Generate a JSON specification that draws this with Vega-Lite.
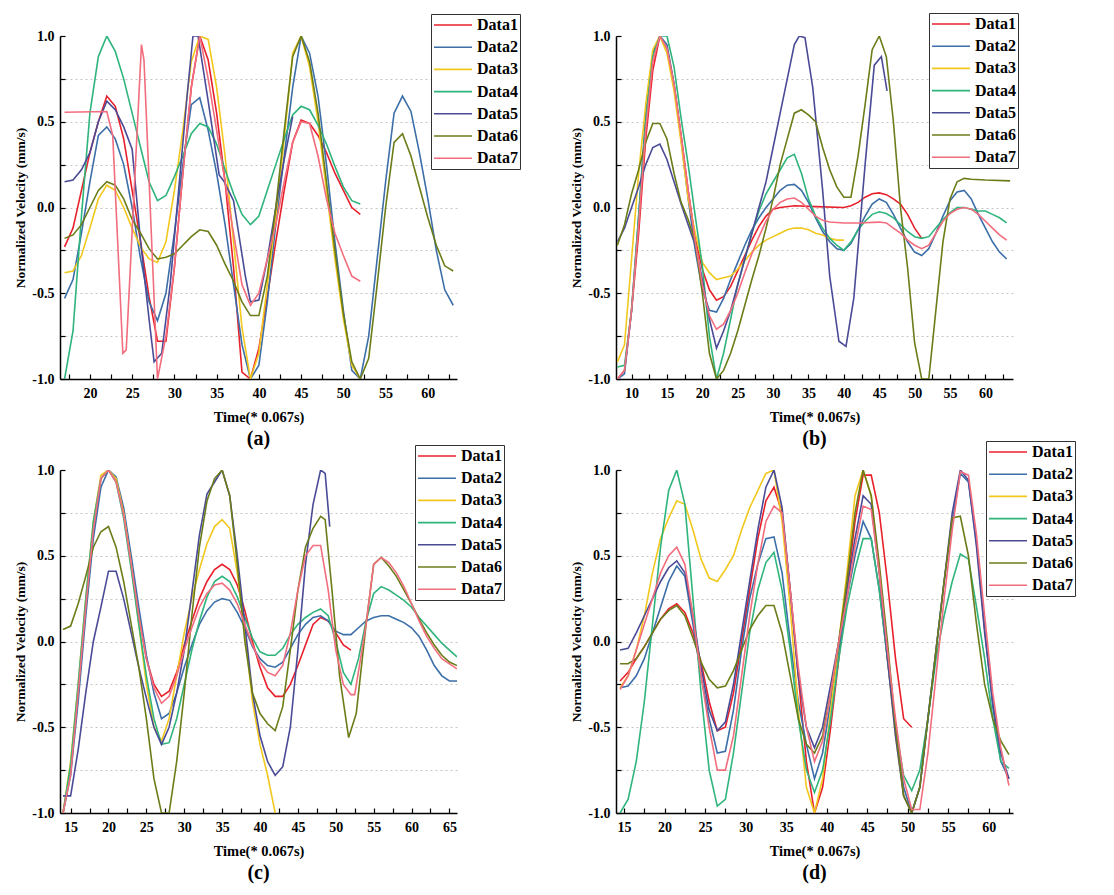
{
  "$schema": "https://vega.github.io/schema/vega-lite/v6.json",
  "background": "white",
  "padding": {"left": 13, "top": 12, "right": 5, "bottom": 5},
  "columns": 2,
  "bounds": "flush",
  "spacing": {"row": 91, "column": 159},
  "resolve": {"scale": {"x": "independent", "y": "independent"}, "legend": {"color": "independent"}},
  "config": {
    "font": "Liberation Serif",
    "view": {"stroke": null},
    "axis": {"labelFont": "Liberation Serif", "labelFontWeight": "bold", "labelColor": "black", "titleFont": "Liberation Serif", "titleFontWeight": "bold", "titleColor": "black", "domainColor": "black", "domainWidth": 1.5, "tickColor": "black", "tickWidth": 1.2, "tickSize": -5, "grid": false},
    "axisX": {"labelFontSize": 14, "titleFontSize": 14.5, "labelPadding": 12, "titlePadding": 10, "labelFlush": false},
    "axisY": {"labelFontSize": 14, "titleFontSize": 13.5, "labelPadding": 11, "titlePadding": 4, "grid": true, "gridColor": "#c4c4c4", "gridDash": [2, 3], "gridWidth": 1},
    "legend": {"fillColor": "white", "strokeColor": "#333333", "padding": 2, "symbolType": "M-1,0H3.75", "symbolStrokeWidth": 2, "symbolSize": 256, "labelFont": "Liberation Serif", "labelFontSize": 16, "labelFontWeight": "bold", "labelColor": "black", "rowPadding": 5.2, "labelOffset": 26, "labelLimit": 0},
    "title": {"font": "Liberation Serif", "fontSize": 20, "fontWeight": "bold", "color": "black", "orient": "bottom", "offset": 5},
    "line": {"strokeWidth": 1.6}
  },
  "datasets": {
    "a": [
      {"s":"Data1","x":17,"y":-0.23},{"s":"Data1","x":18,"y":-0.12},{"s":"Data1","x":19,"y":0.1},{"s":"Data1","x":20,"y":0.32},{"s":"Data1","x":21,"y":0.5},{"s":"Data1","x":22,"y":0.65},{"s":"Data1","x":23,"y":0.59},{"s":"Data1","x":24,"y":0.4},{"s":"Data1","x":25,"y":0.1},{"s":"Data1","x":26,"y":-0.2},{"s":"Data1","x":27,"y":-0.52},{"s":"Data1","x":28,"y":-0.78},{"s":"Data1","x":29,"y":-0.78},{"s":"Data1","x":30,"y":-0.35},{"s":"Data1","x":31,"y":0.2},{"s":"Data1","x":32,"y":0.7},{"s":"Data1","x":33,"y":1.0},{"s":"Data1","x":34,"y":0.86},{"s":"Data1","x":35,"y":0.55},{"s":"Data1","x":36,"y":0.15},{"s":"Data1","x":37,"y":-0.35},{"s":"Data1","x":38,"y":-0.96},{"s":"Data1","x":39,"y":-1.0},{"s":"Data1","x":40,"y":-0.82},{"s":"Data1","x":41,"y":-0.52},{"s":"Data1","x":42,"y":-0.2},{"s":"Data1","x":43,"y":0.1},{"s":"Data1","x":44,"y":0.38},{"s":"Data1","x":45,"y":0.51},{"s":"Data1","x":46,"y":0.49},{"s":"Data1","x":47,"y":0.42},{"s":"Data1","x":48,"y":0.32},{"s":"Data1","x":49,"y":0.2},{"s":"Data1","x":50,"y":0.1},{"s":"Data1","x":51,"y":0.0},{"s":"Data1","x":52,"y":-0.04},
      {"s":"Data2","x":17,"y":-0.53},{"s":"Data2","x":18,"y":-0.42},{"s":"Data2","x":19,"y":-0.15},{"s":"Data2","x":20,"y":0.15},{"s":"Data2","x":21,"y":0.42},{"s":"Data2","x":22,"y":0.47},{"s":"Data2","x":23,"y":0.4},{"s":"Data2","x":24,"y":0.25},{"s":"Data2","x":25,"y":0.0},{"s":"Data2","x":26,"y":-0.3},{"s":"Data2","x":27,"y":-0.55},{"s":"Data2","x":28,"y":-0.66},{"s":"Data2","x":29,"y":-0.5},{"s":"Data2","x":30,"y":-0.15},{"s":"Data2","x":31,"y":0.25},{"s":"Data2","x":32,"y":0.6},{"s":"Data2","x":33,"y":0.64},{"s":"Data2","x":34,"y":0.45},{"s":"Data2","x":35,"y":0.2},{"s":"Data2","x":36,"y":-0.1},{"s":"Data2","x":37,"y":-0.45},{"s":"Data2","x":38,"y":-0.8},{"s":"Data2","x":39,"y":-1.0},{"s":"Data2","x":40,"y":-0.92},{"s":"Data2","x":41,"y":-0.55},{"s":"Data2","x":42,"y":-0.1},{"s":"Data2","x":43,"y":0.3},{"s":"Data2","x":44,"y":0.7},{"s":"Data2","x":45,"y":1.0},{"s":"Data2","x":46,"y":0.9},{"s":"Data2","x":47,"y":0.65},{"s":"Data2","x":48,"y":0.25},{"s":"Data2","x":49,"y":-0.2},{"s":"Data2","x":50,"y":-0.6},{"s":"Data2","x":51,"y":-0.95},{"s":"Data2","x":52,"y":-1.0},{"s":"Data2","x":53,"y":-0.75},{"s":"Data2","x":54,"y":-0.3},{"s":"Data2","x":55,"y":0.15},{"s":"Data2","x":56,"y":0.55},{"s":"Data2","x":57,"y":0.65},{"s":"Data2","x":58,"y":0.56},{"s":"Data2","x":59,"y":0.32},{"s":"Data2","x":60,"y":0.05},{"s":"Data2","x":61,"y":-0.25},{"s":"Data2","x":62,"y":-0.48},{"s":"Data2","x":63,"y":-0.57},
      {"s":"Data3","x":17,"y":-0.38},{"s":"Data3","x":18,"y":-0.37},{"s":"Data3","x":19,"y":-0.28},{"s":"Data3","x":20,"y":-0.12},{"s":"Data3","x":21,"y":0.05},{"s":"Data3","x":22,"y":0.13},{"s":"Data3","x":23,"y":0.1},{"s":"Data3","x":24,"y":0.0},{"s":"Data3","x":25,"y":-0.12},{"s":"Data3","x":26,"y":-0.23},{"s":"Data3","x":27,"y":-0.3},{"s":"Data3","x":28,"y":-0.32},{"s":"Data3","x":29,"y":-0.2},{"s":"Data3","x":30,"y":0.1},{"s":"Data3","x":31,"y":0.45},{"s":"Data3","x":32,"y":0.85},{"s":"Data3","x":33,"y":1.0},{"s":"Data3","x":34,"y":0.98},{"s":"Data3","x":35,"y":0.7},{"s":"Data3","x":36,"y":0.3},{"s":"Data3","x":37,"y":-0.2},{"s":"Data3","x":38,"y":-0.7},{"s":"Data3","x":39,"y":-1.0},{"s":"Data3","x":40,"y":-0.85},{"s":"Data3","x":41,"y":-0.45},{"s":"Data3","x":42,"y":-0.05},{"s":"Data3","x":43,"y":0.4},{"s":"Data3","x":44,"y":0.9},{"s":"Data3","x":45,"y":1.0},{"s":"Data3","x":46,"y":0.82},{"s":"Data3","x":47,"y":0.5},{"s":"Data3","x":48,"y":0.1},{"s":"Data3","x":49,"y":-0.3},{"s":"Data3","x":50,"y":-0.65},{"s":"Data3","x":51,"y":-0.92},{"s":"Data3","x":52,"y":-1.0},
      {"s":"Data4","x":17,"y":-1.0},{"s":"Data4","x":18,"y":-0.72},{"s":"Data4","x":19,"y":-0.05},{"s":"Data4","x":20,"y":0.55},{"s":"Data4","x":21,"y":0.88},{"s":"Data4","x":22,"y":1.0},{"s":"Data4","x":23,"y":0.91},{"s":"Data4","x":24,"y":0.75},{"s":"Data4","x":25,"y":0.55},{"s":"Data4","x":26,"y":0.35},{"s":"Data4","x":27,"y":0.15},{"s":"Data4","x":28,"y":0.04},{"s":"Data4","x":29,"y":0.07},{"s":"Data4","x":30,"y":0.18},{"s":"Data4","x":31,"y":0.3},{"s":"Data4","x":32,"y":0.43},{"s":"Data4","x":33,"y":0.49},{"s":"Data4","x":34,"y":0.47},{"s":"Data4","x":35,"y":0.37},{"s":"Data4","x":36,"y":0.22},{"s":"Data4","x":37,"y":0.08},{"s":"Data4","x":38,"y":-0.04},{"s":"Data4","x":39,"y":-0.1},{"s":"Data4","x":40,"y":-0.05},{"s":"Data4","x":41,"y":0.1},{"s":"Data4","x":42,"y":0.25},{"s":"Data4","x":43,"y":0.4},{"s":"Data4","x":44,"y":0.54},{"s":"Data4","x":45,"y":0.59},{"s":"Data4","x":46,"y":0.57},{"s":"Data4","x":47,"y":0.48},{"s":"Data4","x":48,"y":0.37},{"s":"Data4","x":49,"y":0.24},{"s":"Data4","x":50,"y":0.12},{"s":"Data4","x":51,"y":0.04},{"s":"Data4","x":52,"y":0.02},
      {"s":"Data5","x":17,"y":0.15},{"s":"Data5","x":18,"y":0.16},{"s":"Data5","x":19,"y":0.22},{"s":"Data5","x":20,"y":0.32},{"s":"Data5","x":21,"y":0.5},{"s":"Data5","x":22,"y":0.62},{"s":"Data5","x":23,"y":0.57},{"s":"Data5","x":24,"y":0.47},{"s":"Data5","x":25,"y":0.34},{"s":"Data5","x":26,"y":-0.2},{"s":"Data5","x":27,"y":-0.65},{"s":"Data5","x":27.6,"y":-0.9},{"s":"Data5","x":28.5,"y":-0.85},{"s":"Data5","x":29.5,"y":-0.45},{"s":"Data5","x":30.5,"y":0.1},{"s":"Data5","x":31.5,"y":0.65},{"s":"Data5","x":32.2,"y":1.0},{"s":"Data5","x":32.8,"y":1.0},{"s":"Data5","x":34,"y":0.62},{"s":"Data5","x":35.3,"y":0.19},{"s":"Data5","x":35.9,"y":0.15},{"s":"Data5","x":37,"y":0.04},{"s":"Data5","x":38.4,"y":-0.4},{"s":"Data5","x":39,"y":-0.55},{"s":"Data5","x":40,"y":-0.54},{"s":"Data5","x":41,"y":-0.3},{"s":"Data5","x":42,"y":0.0},{"s":"Data5","x":43,"y":0.28},{"s":"Data5","x":44,"y":0.53},
      {"s":"Data6","x":17,"y":-0.18},{"s":"Data6","x":18,"y":-0.16},{"s":"Data6","x":19,"y":-0.1},{"s":"Data6","x":20,"y":0.0},{"s":"Data6","x":21,"y":0.1},{"s":"Data6","x":22,"y":0.15},{"s":"Data6","x":23,"y":0.13},{"s":"Data6","x":24,"y":0.05},{"s":"Data6","x":25,"y":-0.07},{"s":"Data6","x":26,"y":-0.15},{"s":"Data6","x":27,"y":-0.24},{"s":"Data6","x":28,"y":-0.3},{"s":"Data6","x":29,"y":-0.29},{"s":"Data6","x":30,"y":-0.27},{"s":"Data6","x":31,"y":-0.22},{"s":"Data6","x":32,"y":-0.17},{"s":"Data6","x":33,"y":-0.13},{"s":"Data6","x":34,"y":-0.14},{"s":"Data6","x":35,"y":-0.22},{"s":"Data6","x":36,"y":-0.33},{"s":"Data6","x":37,"y":-0.43},{"s":"Data6","x":38,"y":-0.55},{"s":"Data6","x":39,"y":-0.63},{"s":"Data6","x":40,"y":-0.63},{"s":"Data6","x":41,"y":-0.4},{"s":"Data6","x":42,"y":0.0},{"s":"Data6","x":43,"y":0.45},{"s":"Data6","x":44,"y":0.88},{"s":"Data6","x":45,"y":1.0},{"s":"Data6","x":46,"y":0.85},{"s":"Data6","x":47,"y":0.55},{"s":"Data6","x":48,"y":0.15},{"s":"Data6","x":49,"y":-0.25},{"s":"Data6","x":50,"y":-0.62},{"s":"Data6","x":51,"y":-0.9},{"s":"Data6","x":52,"y":-1.0},{"s":"Data6","x":53,"y":-0.88},{"s":"Data6","x":54,"y":-0.45},{"s":"Data6","x":55,"y":0.0},{"s":"Data6","x":56,"y":0.38},{"s":"Data6","x":57,"y":0.43},{"s":"Data6","x":58,"y":0.3},{"s":"Data6","x":59,"y":0.12},{"s":"Data6","x":60,"y":-0.06},{"s":"Data6","x":61,"y":-0.22},{"s":"Data6","x":62,"y":-0.34},{"s":"Data6","x":63,"y":-0.37},
      {"s":"Data7","x":17,"y":0.555},{"s":"Data7","x":22,"y":0.56},{"s":"Data7","x":22.7,"y":0.42},{"s":"Data7","x":23.9,"y":-0.85},{"s":"Data7","x":24.3,"y":-0.83},{"s":"Data7","x":26.1,"y":0.95},{"s":"Data7","x":26.4,"y":0.86},{"s":"Data7","x":28,"y":-1.0},{"s":"Data7","x":29,"y":-0.75},{"s":"Data7","x":30,"y":-0.35},{"s":"Data7","x":31,"y":0.2},{"s":"Data7","x":32,"y":0.7},{"s":"Data7","x":33,"y":1.0},{"s":"Data7","x":34,"y":0.75},{"s":"Data7","x":35,"y":0.45},{"s":"Data7","x":36,"y":0.15},{"s":"Data7","x":37,"y":-0.15},{"s":"Data7","x":38,"y":-0.45},{"s":"Data7","x":39,"y":-0.57},{"s":"Data7","x":40,"y":-0.5},{"s":"Data7","x":41,"y":-0.3},{"s":"Data7","x":42,"y":-0.1},{"s":"Data7","x":43,"y":0.15},{"s":"Data7","x":44,"y":0.38},{"s":"Data7","x":45,"y":0.5},{"s":"Data7","x":46,"y":0.49},{"s":"Data7","x":47,"y":0.3},{"s":"Data7","x":48,"y":0.05},{"s":"Data7","x":49,"y":-0.15},{"s":"Data7","x":50,"y":-0.28},{"s":"Data7","x":51,"y":-0.4},{"s":"Data7","x":52,"y":-0.43}
    ],
    "b": [
      {"s":"Data1","x":8,"y":-1.0},{"s":"Data1","x":9,"y":-0.95},{"s":"Data1","x":10,"y":-0.6},{"s":"Data1","x":11,"y":-0.15},{"s":"Data1","x":12,"y":0.4},{"s":"Data1","x":13,"y":0.8},{"s":"Data1","x":14,"y":1.0},{"s":"Data1","x":15,"y":0.93},{"s":"Data1","x":16,"y":0.72},{"s":"Data1","x":17,"y":0.42},{"s":"Data1","x":18,"y":0.1},{"s":"Data1","x":19,"y":-0.18},{"s":"Data1","x":20,"y":-0.36},{"s":"Data1","x":21,"y":-0.48},{"s":"Data1","x":22,"y":-0.54},{"s":"Data1","x":23,"y":-0.52},{"s":"Data1","x":24,"y":-0.46},{"s":"Data1","x":25,"y":-0.37},{"s":"Data1","x":26,"y":-0.28},{"s":"Data1","x":27,"y":-0.19},{"s":"Data1","x":28,"y":-0.11},{"s":"Data1","x":29,"y":-0.05},{"s":"Data1","x":30,"y":-0.01},{"s":"Data1","x":31,"y":0.0},{"s":"Data1","x":33,"y":0.01},{"s":"Data1","x":36,"y":0.005},{"s":"Data1","x":40,"y":0.0},{"s":"Data1","x":41,"y":0.01},{"s":"Data1","x":42,"y":0.03},{"s":"Data1","x":43,"y":0.06},{"s":"Data1","x":44,"y":0.08},{"s":"Data1","x":45,"y":0.085},{"s":"Data1","x":46,"y":0.075},{"s":"Data1","x":47,"y":0.05},{"s":"Data1","x":48,"y":0.02},{"s":"Data1","x":49,"y":-0.04},{"s":"Data1","x":50,"y":-0.12},{"s":"Data1","x":51,"y":-0.18},
      {"s":"Data2","x":8,"y":-1.0},{"s":"Data2","x":9,"y":-0.97},{"s":"Data2","x":10,"y":-0.6},{"s":"Data2","x":11,"y":-0.05},{"s":"Data2","x":12,"y":0.55},{"s":"Data2","x":13,"y":0.9},{"s":"Data2","x":14,"y":1.0},{"s":"Data2","x":15,"y":0.95},{"s":"Data2","x":16,"y":0.72},{"s":"Data2","x":17,"y":0.4},{"s":"Data2","x":18,"y":0.05},{"s":"Data2","x":19,"y":-0.25},{"s":"Data2","x":20,"y":-0.48},{"s":"Data2","x":21,"y":-0.6},{"s":"Data2","x":22,"y":-0.61},{"s":"Data2","x":23,"y":-0.53},{"s":"Data2","x":24,"y":-0.42},{"s":"Data2","x":25,"y":-0.32},{"s":"Data2","x":26,"y":-0.22},{"s":"Data2","x":27,"y":-0.13},{"s":"Data2","x":28,"y":-0.06},{"s":"Data2","x":29,"y":0.0},{"s":"Data2","x":30,"y":0.05},{"s":"Data2","x":31,"y":0.1},{"s":"Data2","x":32,"y":0.13},{"s":"Data2","x":33,"y":0.135},{"s":"Data2","x":34,"y":0.1},{"s":"Data2","x":35,"y":0.03},{"s":"Data2","x":36,"y":-0.06},{"s":"Data2","x":37,"y":-0.14},{"s":"Data2","x":38,"y":-0.2},{"s":"Data2","x":39,"y":-0.24},{"s":"Data2","x":40,"y":-0.25},{"s":"Data2","x":41,"y":-0.21},{"s":"Data2","x":42,"y":-0.13},{"s":"Data2","x":43,"y":-0.05},{"s":"Data2","x":44,"y":0.02},{"s":"Data2","x":45,"y":0.05},{"s":"Data2","x":46,"y":0.03},{"s":"Data2","x":47,"y":-0.04},{"s":"Data2","x":48,"y":-0.12},{"s":"Data2","x":49,"y":-0.2},{"s":"Data2","x":50,"y":-0.26},{"s":"Data2","x":51,"y":-0.28},{"s":"Data2","x":52,"y":-0.24},{"s":"Data2","x":53,"y":-0.15},{"s":"Data2","x":54,"y":-0.05},{"s":"Data2","x":55,"y":0.04},{"s":"Data2","x":56,"y":0.09},{"s":"Data2","x":57,"y":0.1},{"s":"Data2","x":58,"y":0.05},{"s":"Data2","x":59,"y":-0.04},{"s":"Data2","x":60,"y":-0.12},{"s":"Data2","x":61,"y":-0.2},{"s":"Data2","x":62,"y":-0.26},{"s":"Data2","x":63,"y":-0.3},
      {"s":"Data3","x":8,"y":-0.9},{"s":"Data3","x":9,"y":-0.8},{"s":"Data3","x":10,"y":-0.3},{"s":"Data3","x":11,"y":0.2},{"s":"Data3","x":12,"y":0.6},{"s":"Data3","x":13,"y":0.92},{"s":"Data3","x":14,"y":1.0},{"s":"Data3","x":15,"y":0.9},{"s":"Data3","x":16,"y":0.68},{"s":"Data3","x":17,"y":0.38},{"s":"Data3","x":18,"y":0.05},{"s":"Data3","x":19,"y":-0.15},{"s":"Data3","x":20,"y":-0.32},{"s":"Data3","x":21,"y":-0.38},{"s":"Data3","x":22,"y":-0.42},{"s":"Data3","x":23,"y":-0.41},{"s":"Data3","x":24,"y":-0.4},{"s":"Data3","x":25,"y":-0.36},{"s":"Data3","x":26,"y":-0.31},{"s":"Data3","x":27,"y":-0.26},{"s":"Data3","x":28,"y":-0.22},{"s":"Data3","x":29,"y":-0.19},{"s":"Data3","x":30,"y":-0.17},{"s":"Data3","x":31,"y":-0.15},{"s":"Data3","x":32,"y":-0.13},{"s":"Data3","x":33,"y":-0.12},{"s":"Data3","x":34,"y":-0.12},{"s":"Data3","x":35,"y":-0.13},{"s":"Data3","x":36,"y":-0.15},{"s":"Data3","x":37,"y":-0.16},{"s":"Data3","x":38,"y":-0.18},{"s":"Data3","x":39,"y":-0.19},{"s":"Data3","x":40,"y":-0.19},
      {"s":"Data4","x":8,"y":-0.93},{"s":"Data4","x":9,"y":-0.92},{"s":"Data4","x":10,"y":-0.6},{"s":"Data4","x":11,"y":-0.05},{"s":"Data4","x":12,"y":0.5},{"s":"Data4","x":13,"y":0.88},{"s":"Data4","x":14,"y":1.0},{"s":"Data4","x":15,"y":1.0},{"s":"Data4","x":16,"y":0.82},{"s":"Data4","x":17,"y":0.52},{"s":"Data4","x":18,"y":0.25},{"s":"Data4","x":19,"y":-0.05},{"s":"Data4","x":20,"y":-0.34},{"s":"Data4","x":21,"y":-0.75},{"s":"Data4","x":22,"y":-1.0},{"s":"Data4","x":23,"y":-0.85},{"s":"Data4","x":24,"y":-0.65},{"s":"Data4","x":25,"y":-0.45},{"s":"Data4","x":26,"y":-0.3},{"s":"Data4","x":27,"y":-0.15},{"s":"Data4","x":28,"y":-0.02},{"s":"Data4","x":29,"y":0.08},{"s":"Data4","x":30,"y":0.15},{"s":"Data4","x":31,"y":0.22},{"s":"Data4","x":32,"y":0.29},{"s":"Data4","x":33,"y":0.31},{"s":"Data4","x":34,"y":0.2},{"s":"Data4","x":35,"y":0.05},{"s":"Data4","x":36,"y":-0.05},{"s":"Data4","x":37,"y":-0.12},{"s":"Data4","x":38,"y":-0.18},{"s":"Data4","x":39,"y":-0.22},{"s":"Data4","x":40,"y":-0.25},{"s":"Data4","x":41,"y":-0.2},{"s":"Data4","x":42,"y":-0.13},{"s":"Data4","x":43,"y":-0.08},{"s":"Data4","x":44,"y":-0.04},{"s":"Data4","x":45,"y":-0.025},{"s":"Data4","x":46,"y":-0.035},{"s":"Data4","x":47,"y":-0.06},{"s":"Data4","x":48,"y":-0.1},{"s":"Data4","x":49,"y":-0.14},{"s":"Data4","x":50,"y":-0.17},{"s":"Data4","x":51,"y":-0.18},{"s":"Data4","x":52,"y":-0.17},{"s":"Data4","x":53,"y":-0.12},{"s":"Data4","x":54,"y":-0.07},{"s":"Data4","x":55,"y":-0.03},{"s":"Data4","x":56,"y":0.0},{"s":"Data4","x":57,"y":0.0},{"s":"Data4","x":58,"y":-0.01},{"s":"Data4","x":59,"y":-0.02},{"s":"Data4","x":60,"y":-0.02},{"s":"Data4","x":61,"y":-0.04},{"s":"Data4","x":62,"y":-0.06},{"s":"Data4","x":63,"y":-0.09},
      {"s":"Data5","x":8,"y":-0.2},{"s":"Data5","x":9,"y":-0.12},{"s":"Data5","x":10,"y":0.0},{"s":"Data5","x":11,"y":0.12},{"s":"Data5","x":12,"y":0.25},{"s":"Data5","x":13,"y":0.35},{"s":"Data5","x":14,"y":0.37},{"s":"Data5","x":15,"y":0.28},{"s":"Data5","x":16,"y":0.15},{"s":"Data5","x":17,"y":0.02},{"s":"Data5","x":18,"y":-0.1},{"s":"Data5","x":19,"y":-0.22},{"s":"Data5","x":20,"y":-0.42},{"s":"Data5","x":21,"y":-0.65},{"s":"Data5","x":22,"y":-0.82},{"s":"Data5","x":23,"y":-0.72},{"s":"Data5","x":24,"y":-0.6},{"s":"Data5","x":25,"y":-0.45},{"s":"Data5","x":26,"y":-0.3},{"s":"Data5","x":27,"y":-0.15},{"s":"Data5","x":28,"y":0.0},{"s":"Data5","x":29,"y":0.15},{"s":"Data5","x":30,"y":0.35},{"s":"Data5","x":31,"y":0.55},{"s":"Data5","x":32,"y":0.75},{"s":"Data5","x":33,"y":0.95},{"s":"Data5","x":33.7,"y":1.0},{"s":"Data5","x":34.5,"y":0.99},{"s":"Data5","x":35.6,"y":0.7},{"s":"Data5","x":37,"y":0.1},{"s":"Data5","x":38,"y":-0.4},{"s":"Data5","x":39.3,"y":-0.78},{"s":"Data5","x":40.3,"y":-0.81},{"s":"Data5","x":41.4,"y":-0.53},{"s":"Data5","x":43,"y":0.25},{"s":"Data5","x":44.3,"y":0.83},{"s":"Data5","x":45.3,"y":0.88},{"s":"Data5","x":46.1,"y":0.68},
      {"s":"Data6","x":8,"y":-0.22},{"s":"Data6","x":9,"y":-0.1},{"s":"Data6","x":10,"y":0.08},{"s":"Data6","x":11,"y":0.22},{"s":"Data6","x":12,"y":0.38},{"s":"Data6","x":13,"y":0.49},{"s":"Data6","x":14,"y":0.49},{"s":"Data6","x":15,"y":0.4},{"s":"Data6","x":16,"y":0.2},{"s":"Data6","x":17,"y":0.03},{"s":"Data6","x":18,"y":-0.07},{"s":"Data6","x":19,"y":-0.2},{"s":"Data6","x":20,"y":-0.5},{"s":"Data6","x":21,"y":-0.85},{"s":"Data6","x":22,"y":-1.0},{"s":"Data6","x":23,"y":-0.95},{"s":"Data6","x":24,"y":-0.85},{"s":"Data6","x":25,"y":-0.72},{"s":"Data6","x":26,"y":-0.57},{"s":"Data6","x":27,"y":-0.42},{"s":"Data6","x":28,"y":-0.28},{"s":"Data6","x":29,"y":-0.12},{"s":"Data6","x":30,"y":0.05},{"s":"Data6","x":31,"y":0.25},{"s":"Data6","x":32,"y":0.4},{"s":"Data6","x":33,"y":0.55},{"s":"Data6","x":34,"y":0.57},{"s":"Data6","x":35,"y":0.54},{"s":"Data6","x":36,"y":0.5},{"s":"Data6","x":37,"y":0.35},{"s":"Data6","x":38,"y":0.22},{"s":"Data6","x":39,"y":0.12},{"s":"Data6","x":40,"y":0.06},{"s":"Data6","x":41,"y":0.06},{"s":"Data6","x":42,"y":0.3},{"s":"Data6","x":43,"y":0.6},{"s":"Data6","x":44,"y":0.92},{"s":"Data6","x":45,"y":1.0},{"s":"Data6","x":46,"y":0.88},{"s":"Data6","x":47,"y":0.5},{"s":"Data6","x":48,"y":0.0},{"s":"Data6","x":49,"y":-0.35},{"s":"Data6","x":50,"y":-0.79},{"s":"Data6","x":51,"y":-1.0},{"s":"Data6","x":52,"y":-1.0},{"s":"Data6","x":53,"y":-0.6},{"s":"Data6","x":54,"y":-0.2},{"s":"Data6","x":55,"y":0.05},{"s":"Data6","x":56,"y":0.15},{"s":"Data6","x":57,"y":0.17},{"s":"Data6","x":58,"y":0.165},{"s":"Data6","x":60,"y":0.16},{"s":"Data6","x":63.5,"y":0.155},
      {"s":"Data7","x":8,"y":-1.0},{"s":"Data7","x":9,"y":-0.95},{"s":"Data7","x":10,"y":-0.6},{"s":"Data7","x":11,"y":-0.1},{"s":"Data7","x":12,"y":0.45},{"s":"Data7","x":13,"y":0.85},{"s":"Data7","x":14,"y":1.0},{"s":"Data7","x":15,"y":0.93},{"s":"Data7","x":16,"y":0.72},{"s":"Data7","x":17,"y":0.42},{"s":"Data7","x":18,"y":0.1},{"s":"Data7","x":19,"y":-0.2},{"s":"Data7","x":20,"y":-0.45},{"s":"Data7","x":21,"y":-0.63},{"s":"Data7","x":22,"y":-0.71},{"s":"Data7","x":23,"y":-0.68},{"s":"Data7","x":24,"y":-0.6},{"s":"Data7","x":25,"y":-0.5},{"s":"Data7","x":26,"y":-0.38},{"s":"Data7","x":27,"y":-0.27},{"s":"Data7","x":28,"y":-0.17},{"s":"Data7","x":29,"y":-0.08},{"s":"Data7","x":30,"y":-0.01},{"s":"Data7","x":31,"y":0.03},{"s":"Data7","x":32,"y":0.05},{"s":"Data7","x":33,"y":0.055},{"s":"Data7","x":34,"y":0.03},{"s":"Data7","x":35,"y":-0.01},{"s":"Data7","x":36,"y":-0.05},{"s":"Data7","x":37,"y":-0.075},{"s":"Data7","x":38,"y":-0.085},{"s":"Data7","x":40,"y":-0.09},{"s":"Data7","x":42,"y":-0.09},{"s":"Data7","x":45,"y":-0.085},{"s":"Data7","x":46,"y":-0.09},{"s":"Data7","x":47,"y":-0.12},{"s":"Data7","x":48,"y":-0.15},{"s":"Data7","x":49,"y":-0.19},{"s":"Data7","x":50,"y":-0.22},{"s":"Data7","x":51,"y":-0.24},{"s":"Data7","x":52,"y":-0.22},{"s":"Data7","x":53,"y":-0.15},{"s":"Data7","x":54,"y":-0.08},{"s":"Data7","x":55,"y":-0.035},{"s":"Data7","x":56,"y":-0.01},{"s":"Data7","x":57,"y":0.0},{"s":"Data7","x":58,"y":-0.01},{"s":"Data7","x":59,"y":-0.04},{"s":"Data7","x":60,"y":-0.08},{"s":"Data7","x":61,"y":-0.12},{"s":"Data7","x":62,"y":-0.16},{"s":"Data7","x":63,"y":-0.19}
    ],
    "c": [
      {"s":"Data1","x":14,"y":-1.0},{"s":"Data1","x":15,"y":-0.75},{"s":"Data1","x":16,"y":-0.3},{"s":"Data1","x":17,"y":0.2},{"s":"Data1","x":18,"y":0.65},{"s":"Data1","x":19,"y":0.95},{"s":"Data1","x":20,"y":1.0},{"s":"Data1","x":21,"y":0.94},{"s":"Data1","x":22,"y":0.75},{"s":"Data1","x":23,"y":0.45},{"s":"Data1","x":24,"y":0.15},{"s":"Data1","x":25,"y":-0.1},{"s":"Data1","x":26,"y":-0.25},{"s":"Data1","x":27,"y":-0.32},{"s":"Data1","x":28,"y":-0.29},{"s":"Data1","x":29,"y":-0.18},{"s":"Data1","x":30,"y":-0.02},{"s":"Data1","x":31,"y":0.12},{"s":"Data1","x":32,"y":0.25},{"s":"Data1","x":33,"y":0.35},{"s":"Data1","x":34,"y":0.42},{"s":"Data1","x":35,"y":0.45},{"s":"Data1","x":36,"y":0.42},{"s":"Data1","x":37,"y":0.33},{"s":"Data1","x":38,"y":0.18},{"s":"Data1","x":39,"y":0.0},{"s":"Data1","x":40,"y":-0.15},{"s":"Data1","x":41,"y":-0.27},{"s":"Data1","x":42,"y":-0.32},{"s":"Data1","x":43,"y":-0.32},{"s":"Data1","x":44,"y":-0.25},{"s":"Data1","x":45,"y":-0.14},{"s":"Data1","x":46,"y":-0.02},{"s":"Data1","x":47,"y":0.1},{"s":"Data1","x":48,"y":0.14},{"s":"Data1","x":49,"y":0.12},{"s":"Data1","x":50,"y":0.05},{"s":"Data1","x":51,"y":-0.02},{"s":"Data1","x":52,"y":-0.05},
      {"s":"Data2","x":14,"y":-1.0},{"s":"Data2","x":15,"y":-0.78},{"s":"Data2","x":16,"y":-0.35},{"s":"Data2","x":17,"y":0.15},{"s":"Data2","x":18,"y":0.6},{"s":"Data2","x":19,"y":0.9},{"s":"Data2","x":20,"y":1.0},{"s":"Data2","x":21,"y":0.96},{"s":"Data2","x":22,"y":0.78},{"s":"Data2","x":23,"y":0.5},{"s":"Data2","x":24,"y":0.2},{"s":"Data2","x":25,"y":-0.08},{"s":"Data2","x":26,"y":-0.3},{"s":"Data2","x":27,"y":-0.45},{"s":"Data2","x":28,"y":-0.42},{"s":"Data2","x":29,"y":-0.3},{"s":"Data2","x":30,"y":-0.15},{"s":"Data2","x":31,"y":-0.02},{"s":"Data2","x":32,"y":0.1},{"s":"Data2","x":33,"y":0.18},{"s":"Data2","x":34,"y":0.23},{"s":"Data2","x":35,"y":0.25},{"s":"Data2","x":36,"y":0.24},{"s":"Data2","x":37,"y":0.17},{"s":"Data2","x":38,"y":0.08},{"s":"Data2","x":39,"y":-0.03},{"s":"Data2","x":40,"y":-0.1},{"s":"Data2","x":41,"y":-0.14},{"s":"Data2","x":42,"y":-0.15},{"s":"Data2","x":43,"y":-0.12},{"s":"Data2","x":44,"y":-0.04},{"s":"Data2","x":45,"y":0.04},{"s":"Data2","x":46,"y":0.1},{"s":"Data2","x":47,"y":0.14},{"s":"Data2","x":48,"y":0.15},{"s":"Data2","x":49,"y":0.12},{"s":"Data2","x":50,"y":0.06},{"s":"Data2","x":51,"y":0.04},{"s":"Data2","x":52,"y":0.04},{"s":"Data2","x":53,"y":0.08},{"s":"Data2","x":54,"y":0.12},{"s":"Data2","x":55,"y":0.14},{"s":"Data2","x":56,"y":0.15},{"s":"Data2","x":57,"y":0.15},{"s":"Data2","x":58,"y":0.13},{"s":"Data2","x":59,"y":0.11},{"s":"Data2","x":60,"y":0.08},{"s":"Data2","x":61,"y":0.03},{"s":"Data2","x":62,"y":-0.05},{"s":"Data2","x":63,"y":-0.14},{"s":"Data2","x":64,"y":-0.2},{"s":"Data2","x":65,"y":-0.23},{"s":"Data2","x":66,"y":-0.23},
      {"s":"Data3","x":14,"y":-1.0},{"s":"Data3","x":15,"y":-0.7},{"s":"Data3","x":16,"y":-0.25},{"s":"Data3","x":17,"y":0.25},{"s":"Data3","x":18,"y":0.7},{"s":"Data3","x":19,"y":0.97},{"s":"Data3","x":20,"y":1.0},{"s":"Data3","x":21,"y":0.95},{"s":"Data3","x":22,"y":0.75},{"s":"Data3","x":23,"y":0.45},{"s":"Data3","x":24,"y":0.1},{"s":"Data3","x":25,"y":-0.25},{"s":"Data3","x":26,"y":-0.5},{"s":"Data3","x":27,"y":-0.58},{"s":"Data3","x":28,"y":-0.45},{"s":"Data3","x":29,"y":-0.2},{"s":"Data3","x":30,"y":0.05},{"s":"Data3","x":31,"y":0.25},{"s":"Data3","x":32,"y":0.42},{"s":"Data3","x":33,"y":0.57},{"s":"Data3","x":34,"y":0.67},{"s":"Data3","x":35,"y":0.71},{"s":"Data3","x":36,"y":0.66},{"s":"Data3","x":37,"y":0.4},{"s":"Data3","x":38,"y":0.05},{"s":"Data3","x":39,"y":-0.35},{"s":"Data3","x":40,"y":-0.6},{"s":"Data3","x":41,"y":-0.78},{"s":"Data3","x":42,"y":-1.0},
      {"s":"Data4","x":14,"y":-1.0},{"s":"Data4","x":15,"y":-0.72},{"s":"Data4","x":16,"y":-0.25},{"s":"Data4","x":17,"y":0.25},{"s":"Data4","x":18,"y":0.7},{"s":"Data4","x":19,"y":0.95},{"s":"Data4","x":20,"y":1.0},{"s":"Data4","x":21,"y":0.93},{"s":"Data4","x":22,"y":0.72},{"s":"Data4","x":23,"y":0.42},{"s":"Data4","x":24,"y":0.1},{"s":"Data4","x":25,"y":-0.2},{"s":"Data4","x":26,"y":-0.45},{"s":"Data4","x":27,"y":-0.6},{"s":"Data4","x":28,"y":-0.59},{"s":"Data4","x":29,"y":-0.45},{"s":"Data4","x":30,"y":-0.25},{"s":"Data4","x":31,"y":-0.05},{"s":"Data4","x":32,"y":0.12},{"s":"Data4","x":33,"y":0.26},{"s":"Data4","x":34,"y":0.35},{"s":"Data4","x":35,"y":0.38},{"s":"Data4","x":36,"y":0.35},{"s":"Data4","x":37,"y":0.26},{"s":"Data4","x":38,"y":0.14},{"s":"Data4","x":39,"y":0.02},{"s":"Data4","x":40,"y":-0.06},{"s":"Data4","x":41,"y":-0.08},{"s":"Data4","x":42,"y":-0.08},{"s":"Data4","x":43,"y":-0.04},{"s":"Data4","x":44,"y":0.04},{"s":"Data4","x":45,"y":0.1},{"s":"Data4","x":46,"y":0.14},{"s":"Data4","x":47,"y":0.17},{"s":"Data4","x":48,"y":0.19},{"s":"Data4","x":49,"y":0.15},{"s":"Data4","x":50,"y":0.0},{"s":"Data4","x":51,"y":-0.18},{"s":"Data4","x":52,"y":-0.25},{"s":"Data4","x":53,"y":-0.1},{"s":"Data4","x":54,"y":0.12},{"s":"Data4","x":55,"y":0.28},{"s":"Data4","x":56,"y":0.32},{"s":"Data4","x":57,"y":0.3},{"s":"Data4","x":58,"y":0.27},{"s":"Data4","x":59,"y":0.24},{"s":"Data4","x":60,"y":0.2},{"s":"Data4","x":61,"y":0.14},{"s":"Data4","x":62,"y":0.09},{"s":"Data4","x":63,"y":0.04},{"s":"Data4","x":64,"y":-0.01},{"s":"Data4","x":65,"y":-0.05},{"s":"Data4","x":66,"y":-0.09},
      {"s":"Data5","x":14,"y":-0.9},{"s":"Data5","x":15,"y":-0.9},{"s":"Data5","x":16,"y":-0.63},{"s":"Data5","x":17,"y":-0.3},{"s":"Data5","x":18,"y":0.0},{"s":"Data5","x":19,"y":0.2},{"s":"Data5","x":20,"y":0.41},{"s":"Data5","x":21,"y":0.41},{"s":"Data5","x":22,"y":0.25},{"s":"Data5","x":23,"y":0.05},{"s":"Data5","x":24,"y":-0.15},{"s":"Data5","x":25,"y":-0.33},{"s":"Data5","x":26,"y":-0.5},{"s":"Data5","x":27,"y":-0.6},{"s":"Data5","x":28,"y":-0.5},{"s":"Data5","x":29,"y":-0.3},{"s":"Data5","x":30,"y":-0.05},{"s":"Data5","x":31,"y":0.28},{"s":"Data5","x":32,"y":0.62},{"s":"Data5","x":33,"y":0.86},{"s":"Data5","x":34,"y":0.93},{"s":"Data5","x":35,"y":1.0},{"s":"Data5","x":36,"y":0.85},{"s":"Data5","x":37,"y":0.5},{"s":"Data5","x":38,"y":0.1},{"s":"Data5","x":39,"y":-0.3},{"s":"Data5","x":40,"y":-0.55},{"s":"Data5","x":41,"y":-0.7},{"s":"Data5","x":42,"y":-0.78},{"s":"Data5","x":43,"y":-0.73},{"s":"Data5","x":44,"y":-0.5},{"s":"Data5","x":45,"y":-0.05},{"s":"Data5","x":46,"y":0.45},{"s":"Data5","x":47,"y":0.8},{"s":"Data5","x":48,"y":1.0},{"s":"Data5","x":48.6,"y":0.98},{"s":"Data5","x":49.2,"y":0.67},
      {"s":"Data6","x":14,"y":0.07},{"s":"Data6","x":15,"y":0.09},{"s":"Data6","x":16,"y":0.22},{"s":"Data6","x":17,"y":0.38},{"s":"Data6","x":18,"y":0.55},{"s":"Data6","x":19,"y":0.64},{"s":"Data6","x":20,"y":0.67},{"s":"Data6","x":21,"y":0.55},{"s":"Data6","x":22,"y":0.35},{"s":"Data6","x":23,"y":0.1},{"s":"Data6","x":24,"y":-0.15},{"s":"Data6","x":25,"y":-0.45},{"s":"Data6","x":26,"y":-0.8},{"s":"Data6","x":27,"y":-1.0},{"s":"Data6","x":28,"y":-1.0},{"s":"Data6","x":29,"y":-0.7},{"s":"Data6","x":30,"y":-0.3},{"s":"Data6","x":31,"y":0.15},{"s":"Data6","x":32,"y":0.55},{"s":"Data6","x":33,"y":0.82},{"s":"Data6","x":34,"y":0.95},{"s":"Data6","x":35,"y":1.0},{"s":"Data6","x":36,"y":0.85},{"s":"Data6","x":37,"y":0.45},{"s":"Data6","x":38,"y":0.0},{"s":"Data6","x":39,"y":-0.3},{"s":"Data6","x":40,"y":-0.42},{"s":"Data6","x":41,"y":-0.48},{"s":"Data6","x":42,"y":-0.52},{"s":"Data6","x":43,"y":-0.38},{"s":"Data6","x":44,"y":-0.05},{"s":"Data6","x":45,"y":0.3},{"s":"Data6","x":46,"y":0.55},{"s":"Data6","x":47,"y":0.66},{"s":"Data6","x":48,"y":0.73},{"s":"Data6","x":48.6,"y":0.71},{"s":"Data6","x":49.5,"y":0.3},{"s":"Data6","x":50.5,"y":-0.2},{"s":"Data6","x":51.7,"y":-0.56},{"s":"Data6","x":52.7,"y":-0.42},{"s":"Data6","x":54,"y":0.1},{"s":"Data6","x":55,"y":0.45},{"s":"Data6","x":56,"y":0.49},{"s":"Data6","x":57,"y":0.44},{"s":"Data6","x":58,"y":0.38},{"s":"Data6","x":59,"y":0.3},{"s":"Data6","x":60,"y":0.22},{"s":"Data6","x":61,"y":0.13},{"s":"Data6","x":62,"y":0.05},{"s":"Data6","x":63,"y":-0.02},{"s":"Data6","x":64,"y":-0.08},{"s":"Data6","x":65,"y":-0.12},{"s":"Data6","x":66,"y":-0.14},
      {"s":"Data7","x":14,"y":-1.0},{"s":"Data7","x":15,"y":-0.78},{"s":"Data7","x":16,"y":-0.3},{"s":"Data7","x":17,"y":0.2},{"s":"Data7","x":18,"y":0.65},{"s":"Data7","x":19,"y":0.95},{"s":"Data7","x":20,"y":1.0},{"s":"Data7","x":21,"y":0.93},{"s":"Data7","x":22,"y":0.74},{"s":"Data7","x":23,"y":0.45},{"s":"Data7","x":24,"y":0.15},{"s":"Data7","x":25,"y":-0.1},{"s":"Data7","x":26,"y":-0.27},{"s":"Data7","x":27,"y":-0.36},{"s":"Data7","x":28,"y":-0.32},{"s":"Data7","x":29,"y":-0.2},{"s":"Data7","x":30,"y":-0.05},{"s":"Data7","x":31,"y":0.08},{"s":"Data7","x":32,"y":0.2},{"s":"Data7","x":33,"y":0.28},{"s":"Data7","x":34,"y":0.33},{"s":"Data7","x":35,"y":0.34},{"s":"Data7","x":36,"y":0.3},{"s":"Data7","x":37,"y":0.22},{"s":"Data7","x":38,"y":0.1},{"s":"Data7","x":39,"y":-0.02},{"s":"Data7","x":40,"y":-0.12},{"s":"Data7","x":41,"y":-0.18},{"s":"Data7","x":42,"y":-0.2},{"s":"Data7","x":43,"y":-0.14},{"s":"Data7","x":44,"y":0.05},{"s":"Data7","x":45,"y":0.3},{"s":"Data7","x":46,"y":0.5},{"s":"Data7","x":47,"y":0.56},{"s":"Data7","x":48,"y":0.56},{"s":"Data7","x":49,"y":0.3},{"s":"Data7","x":50,"y":-0.05},{"s":"Data7","x":51,"y":-0.25},{"s":"Data7","x":52,"y":-0.31},{"s":"Data7","x":52.5,"y":-0.31},{"s":"Data7","x":54,"y":0.1},{"s":"Data7","x":55,"y":0.45},{"s":"Data7","x":56,"y":0.49},{"s":"Data7","x":57,"y":0.46},{"s":"Data7","x":58,"y":0.4},{"s":"Data7","x":59,"y":0.32},{"s":"Data7","x":60,"y":0.22},{"s":"Data7","x":61,"y":0.12},{"s":"Data7","x":62,"y":0.03},{"s":"Data7","x":63,"y":-0.04},{"s":"Data7","x":64,"y":-0.1},{"s":"Data7","x":65,"y":-0.13},{"s":"Data7","x":66,"y":-0.16}
    ],
    "d": [
      {"s":"Data1","x":14.5,"y":-0.23},{"s":"Data1","x":15.5,"y":-0.18},{"s":"Data1","x":16.5,"y":-0.1},{"s":"Data1","x":17.5,"y":-0.03},{"s":"Data1","x":18.5,"y":0.05},{"s":"Data1","x":19.5,"y":0.13},{"s":"Data1","x":20.5,"y":0.19},{"s":"Data1","x":21.5,"y":0.22},{"s":"Data1","x":22.5,"y":0.17},{"s":"Data1","x":23.5,"y":0.05},{"s":"Data1","x":24.5,"y":-0.12},{"s":"Data1","x":25.5,"y":-0.35},{"s":"Data1","x":26.5,"y":-0.52},{"s":"Data1","x":27.5,"y":-0.5},{"s":"Data1","x":28.5,"y":-0.3},{"s":"Data1","x":29.5,"y":0.0},{"s":"Data1","x":30.5,"y":0.3},{"s":"Data1","x":31.5,"y":0.6},{"s":"Data1","x":32.5,"y":0.82},{"s":"Data1","x":33.5,"y":0.9},{"s":"Data1","x":34.5,"y":0.75},{"s":"Data1","x":35.5,"y":0.3},{"s":"Data1","x":36.5,"y":-0.2},{"s":"Data1","x":37.5,"y":-0.7},{"s":"Data1","x":38.5,"y":-1.0},{"s":"Data1","x":39.5,"y":-0.85},{"s":"Data1","x":40.5,"y":-0.5},{"s":"Data1","x":41.5,"y":-0.1},{"s":"Data1","x":42.5,"y":0.3},{"s":"Data1","x":43.5,"y":0.7},{"s":"Data1","x":44.5,"y":0.97},{"s":"Data1","x":45.5,"y":0.97},{"s":"Data1","x":46.5,"y":0.75},{"s":"Data1","x":47.5,"y":0.35},{"s":"Data1","x":48.5,"y":-0.1},{"s":"Data1","x":49.5,"y":-0.45},{"s":"Data1","x":50.5,"y":-0.5},
      {"s":"Data2","x":14.5,"y":-0.27},{"s":"Data2","x":15.5,"y":-0.26},{"s":"Data2","x":16.5,"y":-0.2},{"s":"Data2","x":17.5,"y":-0.1},{"s":"Data2","x":18.5,"y":0.05},{"s":"Data2","x":19.5,"y":0.2},{"s":"Data2","x":20.5,"y":0.35},{"s":"Data2","x":21.5,"y":0.44},{"s":"Data2","x":22.5,"y":0.38},{"s":"Data2","x":23.5,"y":0.1},{"s":"Data2","x":24.5,"y":-0.2},{"s":"Data2","x":25.5,"y":-0.45},{"s":"Data2","x":26.5,"y":-0.65},{"s":"Data2","x":27.5,"y":-0.64},{"s":"Data2","x":28.5,"y":-0.4},{"s":"Data2","x":29.5,"y":-0.05},{"s":"Data2","x":30.5,"y":0.25},{"s":"Data2","x":31.5,"y":0.45},{"s":"Data2","x":32.5,"y":0.6},{"s":"Data2","x":33.5,"y":0.61},{"s":"Data2","x":34.5,"y":0.4},{"s":"Data2","x":35.5,"y":0.0},{"s":"Data2","x":36.5,"y":-0.35},{"s":"Data2","x":37.5,"y":-0.6},{"s":"Data2","x":38.5,"y":-0.8},{"s":"Data2","x":39.5,"y":-0.65},{"s":"Data2","x":40.5,"y":-0.35},{"s":"Data2","x":41.5,"y":-0.05},{"s":"Data2","x":42.5,"y":0.25},{"s":"Data2","x":43.5,"y":0.5},{"s":"Data2","x":44.5,"y":0.7},{"s":"Data2","x":45.5,"y":0.6},{"s":"Data2","x":46.5,"y":0.3},{"s":"Data2","x":47.5,"y":-0.1},{"s":"Data2","x":48.5,"y":-0.5},{"s":"Data2","x":49.5,"y":-0.85},{"s":"Data2","x":50.5,"y":-1.0},{"s":"Data2","x":51.5,"y":-0.85},{"s":"Data2","x":52.5,"y":-0.45},{"s":"Data2","x":53.5,"y":-0.05},{"s":"Data2","x":54.5,"y":0.35},{"s":"Data2","x":55.5,"y":0.7},{"s":"Data2","x":56.5,"y":0.98},{"s":"Data2","x":57.5,"y":0.93},{"s":"Data2","x":58.5,"y":0.58},{"s":"Data2","x":59.5,"y":0.08},{"s":"Data2","x":60.5,"y":-0.38},{"s":"Data2","x":61.5,"y":-0.7},{"s":"Data2","x":62.5,"y":-0.8},
      {"s":"Data3","x":14.5,"y":-0.27},{"s":"Data3","x":15.5,"y":-0.2},{"s":"Data3","x":16.5,"y":-0.05},{"s":"Data3","x":17.5,"y":0.15},{"s":"Data3","x":18.5,"y":0.4},{"s":"Data3","x":19.5,"y":0.6},{"s":"Data3","x":20.5,"y":0.72},{"s":"Data3","x":21.5,"y":0.82},{"s":"Data3","x":22.5,"y":0.8},{"s":"Data3","x":23.5,"y":0.65},{"s":"Data3","x":24.5,"y":0.48},{"s":"Data3","x":25.5,"y":0.37},{"s":"Data3","x":26.5,"y":0.35},{"s":"Data3","x":27.5,"y":0.42},{"s":"Data3","x":28.5,"y":0.5},{"s":"Data3","x":29.5,"y":0.65},{"s":"Data3","x":30.5,"y":0.78},{"s":"Data3","x":31.5,"y":0.88},{"s":"Data3","x":32.5,"y":0.98},{"s":"Data3","x":33.5,"y":1.0},{"s":"Data3","x":34.5,"y":0.7},{"s":"Data3","x":35.5,"y":0.2},{"s":"Data3","x":36.5,"y":-0.4},{"s":"Data3","x":37.5,"y":-0.85},{"s":"Data3","x":38.5,"y":-1.0},{"s":"Data3","x":39.5,"y":-0.8},{"s":"Data3","x":40.5,"y":-0.4},{"s":"Data3","x":41.5,"y":0.0},{"s":"Data3","x":42.5,"y":0.4},{"s":"Data3","x":43.5,"y":0.85},{"s":"Data3","x":44.5,"y":1.0},{"s":"Data3","x":45.5,"y":0.85},{"s":"Data3","x":46.5,"y":0.4},{"s":"Data3","x":47.5,"y":-0.1},{"s":"Data3","x":48.5,"y":-0.55},{"s":"Data3","x":49.5,"y":-0.9},{"s":"Data3","x":50.5,"y":-1.0},
      {"s":"Data4","x":14.5,"y":-1.0},{"s":"Data4","x":15.5,"y":-0.92},{"s":"Data4","x":16.5,"y":-0.7},{"s":"Data4","x":17.5,"y":-0.35},{"s":"Data4","x":18.5,"y":0.1},{"s":"Data4","x":19.5,"y":0.55},{"s":"Data4","x":20.5,"y":0.88},{"s":"Data4","x":21.5,"y":1.0},{"s":"Data4","x":22.5,"y":0.8},{"s":"Data4","x":23.5,"y":0.25},{"s":"Data4","x":24.5,"y":-0.3},{"s":"Data4","x":25.5,"y":-0.75},{"s":"Data4","x":26.5,"y":-0.96},{"s":"Data4","x":27.5,"y":-0.92},{"s":"Data4","x":28.5,"y":-0.65},{"s":"Data4","x":29.5,"y":-0.3},{"s":"Data4","x":30.5,"y":0.05},{"s":"Data4","x":31.5,"y":0.3},{"s":"Data4","x":32.5,"y":0.46},{"s":"Data4","x":33.5,"y":0.52},{"s":"Data4","x":34.5,"y":0.3},{"s":"Data4","x":35.5,"y":-0.05},{"s":"Data4","x":36.5,"y":-0.45},{"s":"Data4","x":37.5,"y":-0.75},{"s":"Data4","x":38.5,"y":-0.88},{"s":"Data4","x":39.5,"y":-0.75},{"s":"Data4","x":40.5,"y":-0.45},{"s":"Data4","x":41.5,"y":-0.1},{"s":"Data4","x":42.5,"y":0.2},{"s":"Data4","x":43.5,"y":0.42},{"s":"Data4","x":44.5,"y":0.6},{"s":"Data4","x":45.5,"y":0.6},{"s":"Data4","x":46.5,"y":0.3},{"s":"Data4","x":47.5,"y":-0.1},{"s":"Data4","x":48.5,"y":-0.5},{"s":"Data4","x":49.5,"y":-0.78},{"s":"Data4","x":50.5,"y":-0.87},{"s":"Data4","x":51.5,"y":-0.75},{"s":"Data4","x":52.5,"y":-0.45},{"s":"Data4","x":53.5,"y":-0.1},{"s":"Data4","x":54.5,"y":0.15},{"s":"Data4","x":55.5,"y":0.35},{"s":"Data4","x":56.5,"y":0.51},{"s":"Data4","x":57.5,"y":0.48},{"s":"Data4","x":58.5,"y":0.2},{"s":"Data4","x":59.5,"y":-0.1},{"s":"Data4","x":60.5,"y":-0.45},{"s":"Data4","x":61.5,"y":-0.7},{"s":"Data4","x":62.5,"y":-0.74},
      {"s":"Data5","x":14.5,"y":-0.05},{"s":"Data5","x":15.5,"y":-0.04},{"s":"Data5","x":16.5,"y":0.05},{"s":"Data5","x":17.5,"y":0.15},{"s":"Data5","x":18.5,"y":0.25},{"s":"Data5","x":19.5,"y":0.35},{"s":"Data5","x":20.5,"y":0.43},{"s":"Data5","x":21.5,"y":0.47},{"s":"Data5","x":22.5,"y":0.4},{"s":"Data5","x":23.5,"y":0.15},{"s":"Data5","x":24.5,"y":-0.15},{"s":"Data5","x":25.5,"y":-0.4},{"s":"Data5","x":26.5,"y":-0.52},{"s":"Data5","x":27.5,"y":-0.47},{"s":"Data5","x":28.5,"y":-0.25},{"s":"Data5","x":29.5,"y":0.05},{"s":"Data5","x":30.5,"y":0.35},{"s":"Data5","x":31.5,"y":0.65},{"s":"Data5","x":32.5,"y":0.9},{"s":"Data5","x":33.5,"y":1.0},{"s":"Data5","x":34.5,"y":0.78},{"s":"Data5","x":35.5,"y":0.3},{"s":"Data5","x":36.5,"y":-0.2},{"s":"Data5","x":37.5,"y":-0.5},{"s":"Data5","x":38.5,"y":-0.62},{"s":"Data5","x":39.5,"y":-0.5},{"s":"Data5","x":40.5,"y":-0.25},{"s":"Data5","x":41.5,"y":0.0},{"s":"Data5","x":42.5,"y":0.3},{"s":"Data5","x":43.5,"y":0.6},{"s":"Data5","x":44.5,"y":0.85},{"s":"Data5","x":45.5,"y":0.8},{"s":"Data5","x":46.5,"y":0.4},{"s":"Data5","x":47.5,"y":-0.1},{"s":"Data5","x":48.5,"y":-0.55},{"s":"Data5","x":49.5,"y":-0.9},{"s":"Data5","x":50.5,"y":-1.0},{"s":"Data5","x":51.5,"y":-0.85},{"s":"Data5","x":52.5,"y":-0.45},{"s":"Data5","x":53.5,"y":-0.05},{"s":"Data5","x":54.5,"y":0.35},{"s":"Data5","x":55.5,"y":0.75},{"s":"Data5","x":56.5,"y":1.0},{"s":"Data5","x":57.5,"y":0.94},{"s":"Data5","x":58.5,"y":0.55},{"s":"Data5","x":59.5,"y":0.05},{"s":"Data5","x":60.5,"y":-0.35},{"s":"Data5","x":61.5,"y":-0.65},{"s":"Data5","x":62.5,"y":-0.8},
      {"s":"Data6","x":14.5,"y":-0.13},{"s":"Data6","x":15.5,"y":-0.13},{"s":"Data6","x":16.5,"y":-0.1},{"s":"Data6","x":17.5,"y":-0.03},{"s":"Data6","x":18.5,"y":0.05},{"s":"Data6","x":19.5,"y":0.13},{"s":"Data6","x":20.5,"y":0.18},{"s":"Data6","x":21.5,"y":0.21},{"s":"Data6","x":22.5,"y":0.15},{"s":"Data6","x":23.5,"y":0.02},{"s":"Data6","x":24.5,"y":-0.12},{"s":"Data6","x":25.5,"y":-0.22},{"s":"Data6","x":26.5,"y":-0.27},{"s":"Data6","x":27.5,"y":-0.26},{"s":"Data6","x":28.5,"y":-0.17},{"s":"Data6","x":29.5,"y":-0.05},{"s":"Data6","x":30.5,"y":0.07},{"s":"Data6","x":31.5,"y":0.15},{"s":"Data6","x":32.5,"y":0.21},{"s":"Data6","x":33.5,"y":0.21},{"s":"Data6","x":34.5,"y":0.05},{"s":"Data6","x":35.5,"y":-0.2},{"s":"Data6","x":36.5,"y":-0.45},{"s":"Data6","x":37.5,"y":-0.6},{"s":"Data6","x":38.5,"y":-0.65},{"s":"Data6","x":39.5,"y":-0.55},{"s":"Data6","x":40.5,"y":-0.3},{"s":"Data6","x":41.5,"y":0.0},{"s":"Data6","x":42.5,"y":0.35},{"s":"Data6","x":43.5,"y":0.75},{"s":"Data6","x":44.5,"y":1.0},{"s":"Data6","x":45.5,"y":0.85},{"s":"Data6","x":46.5,"y":0.45},{"s":"Data6","x":47.5,"y":0.0},{"s":"Data6","x":48.5,"y":-0.5},{"s":"Data6","x":49.5,"y":-0.9},{"s":"Data6","x":50.5,"y":-1.0},{"s":"Data6","x":51.5,"y":-0.85},{"s":"Data6","x":52.5,"y":-0.45},{"s":"Data6","x":53.5,"y":-0.05},{"s":"Data6","x":54.5,"y":0.35},{"s":"Data6","x":55.5,"y":0.72},{"s":"Data6","x":56.5,"y":0.73},{"s":"Data6","x":57.5,"y":0.5},{"s":"Data6","x":58.5,"y":0.1},{"s":"Data6","x":59.5,"y":-0.25},{"s":"Data6","x":60.5,"y":-0.45},{"s":"Data6","x":61.5,"y":-0.58},{"s":"Data6","x":62.5,"y":-0.66},
      {"s":"Data7","x":14.5,"y":-0.28},{"s":"Data7","x":15.5,"y":-0.2},{"s":"Data7","x":16.5,"y":-0.05},{"s":"Data7","x":17.5,"y":0.1},{"s":"Data7","x":18.5,"y":0.25},{"s":"Data7","x":19.5,"y":0.4},{"s":"Data7","x":20.5,"y":0.5},{"s":"Data7","x":21.5,"y":0.55},{"s":"Data7","x":22.5,"y":0.45},{"s":"Data7","x":23.5,"y":0.15},{"s":"Data7","x":24.5,"y":-0.2},{"s":"Data7","x":25.5,"y":-0.5},{"s":"Data7","x":26.5,"y":-0.75},{"s":"Data7","x":27.5,"y":-0.75},{"s":"Data7","x":28.5,"y":-0.55},{"s":"Data7","x":29.5,"y":-0.2},{"s":"Data7","x":30.5,"y":0.15},{"s":"Data7","x":31.5,"y":0.45},{"s":"Data7","x":32.5,"y":0.7},{"s":"Data7","x":33.5,"y":0.79},{"s":"Data7","x":34.5,"y":0.75},{"s":"Data7","x":35.5,"y":0.3},{"s":"Data7","x":36.5,"y":-0.15},{"s":"Data7","x":37.5,"y":-0.5},{"s":"Data7","x":38.5,"y":-0.7},{"s":"Data7","x":39.5,"y":-0.58},{"s":"Data7","x":40.5,"y":-0.3},{"s":"Data7","x":41.5,"y":0.0},{"s":"Data7","x":42.5,"y":0.25},{"s":"Data7","x":43.5,"y":0.55},{"s":"Data7","x":44.5,"y":0.79},{"s":"Data7","x":45.5,"y":0.77},{"s":"Data7","x":46.5,"y":0.4},{"s":"Data7","x":47.5,"y":-0.05},{"s":"Data7","x":48.5,"y":-0.45},{"s":"Data7","x":49.5,"y":-0.8},{"s":"Data7","x":50.5,"y":-0.98},{"s":"Data7","x":51.5,"y":-0.98},{"s":"Data7","x":52.5,"y":-0.65},{"s":"Data7","x":53.5,"y":-0.2},{"s":"Data7","x":54.5,"y":0.25},{"s":"Data7","x":55.5,"y":0.65},{"s":"Data7","x":56.5,"y":0.99},{"s":"Data7","x":57.5,"y":0.97},{"s":"Data7","x":58.5,"y":0.62},{"s":"Data7","x":59.5,"y":0.15},{"s":"Data7","x":60.5,"y":-0.3},{"s":"Data7","x":61.5,"y":-0.62},{"s":"Data7","x":62.5,"y":-0.84}
    ]
  },
  "concat": [
    {
      "width": 397, "height": 343,
      "data": {"name": "a"},
      "title": {"text": "(a)"},
      "mark": {"type": "line", "clip": true},
      "encoding": {
        "x": {"field": "x", "type": "quantitative", "scale": {"domain": [16.46, 63.45], "nice": false, "zero": false}, "axis": {"title": "Time(* 0.067s)", "values": [17.5,20,22.5,25,27.5,30,32.5,35,37.5,40,42.5,45,47.5,50,52.5,55,57.5,60,62.5], "labelExpr": "datum.value % 5 === 0 ? datum.label : ''"}},
        "y": {"field": "y", "type": "quantitative", "scale": {"domain": [-1, 1], "nice": false, "zero": false}, "axis": {"title": "Normalized Velocity (mm/s)", "values": [-1,-0.75,-0.5,-0.25,0,0.25,0.5,0.75,1], "labelExpr": "datum.value % 0.5 === 0 ? (datum.value < 0 ? '-' : '') + format(abs(datum.value), '.1f') : ''", "gridOpacity": {"condition": {"test": "abs(datum.value) === 1", "value": 0}, "value": 1}}},
        "color": {"field": "s", "type": "nominal", "scale": {"domain": ["Data1","Data2","Data3","Data4","Data5","Data6","Data7"], "range": ["#e8202b","#3c6ea8","#f2c81e","#2fb47c","#4a4b96","#6b7d18","#f26d7d"]}, "legend": {"title": null, "orient": "none", "legendX": 371, "legendY": -22}}
      }
    },
    {
      "width": 397, "height": 343,
      "data": {"name": "b"},
      "title": {"text": "(b)"},
      "mark": {"type": "line", "clip": true},
      "encoding": {
        "x": {"field": "x", "type": "quantitative", "scale": {"domain": [7.8, 63.9], "nice": false, "zero": false}, "axis": {"title": "Time(* 0.067s)", "values": [10,12.5,15,17.5,20,22.5,25,27.5,30,32.5,35,37.5,40,42.5,45,47.5,50,52.5,55,57.5,60,62.5], "labelExpr": "datum.value % 5 === 0 ? datum.label : ''"}},
        "y": {"field": "y", "type": "quantitative", "scale": {"domain": [-1, 1], "nice": false, "zero": false}, "axis": {"title": "Normalized Velocity (mm/s)", "values": [-1,-0.75,-0.5,-0.25,0,0.25,0.5,0.75,1], "labelExpr": "datum.value % 0.5 === 0 ? (datum.value < 0 ? '-' : '') + format(abs(datum.value), '.1f') : ''", "gridOpacity": {"condition": {"test": "abs(datum.value) === 1", "value": 0}, "value": 1}}},
        "color": {"field": "s", "type": "nominal", "scale": {"domain": ["Data1","Data2","Data3","Data4","Data5","Data6","Data7"], "range": ["#e8202b","#3c6ea8","#f2c81e","#2fb47c","#4a4b96","#6b7d18","#f26d7d"]}, "legend": {"title": null, "orient": "none", "legendX": 313, "legendY": -23}}
      }
    },
    {
      "width": 397, "height": 343,
      "data": {"name": "c"},
      "title": {"text": "(c)"},
      "mark": {"type": "line", "clip": true},
      "encoding": {
        "x": {"field": "x", "type": "quantitative", "scale": {"domain": [13.6, 66.0], "nice": false, "zero": false}, "axis": {"title": "Time(* 0.067s)", "values": [15,17.5,20,22.5,25,27.5,30,32.5,35,37.5,40,42.5,45,47.5,50,52.5,55,57.5,60,62.5,65], "labelExpr": "datum.value % 5 === 0 ? datum.label : ''"}},
        "y": {"field": "y", "type": "quantitative", "scale": {"domain": [-1, 1], "nice": false, "zero": false}, "axis": {"title": "Normalized Velocity (mm/s)", "values": [-1,-0.75,-0.5,-0.25,0,0.25,0.5,0.75,1], "labelExpr": "datum.value % 0.5 === 0 ? (datum.value < 0 ? '-' : '') + format(abs(datum.value), '.1f') : ''", "gridOpacity": {"condition": {"test": "abs(datum.value) === 1", "value": 0}, "value": 1}}},
        "color": {"field": "s", "type": "nominal", "scale": {"domain": ["Data1","Data2","Data3","Data4","Data5","Data6","Data7"], "range": ["#e8202b","#3c6ea8","#f2c81e","#2fb47c","#4a4b96","#6b7d18","#f26d7d"]}, "legend": {"title": null, "orient": "none", "legendX": 355, "legendY": -25}}
      }
    },
    {
      "width": 397, "height": 343,
      "data": {"name": "d"},
      "title": {"text": "(d)"},
      "mark": {"type": "line", "clip": true},
      "encoding": {
        "x": {"field": "x", "type": "quantitative", "scale": {"domain": [14.0, 63.0], "nice": false, "zero": false}, "axis": {"title": "Time(* 0.067s)", "values": [15,17.5,20,22.5,25,27.5,30,32.5,35,37.5,40,42.5,45,47.5,50,52.5,55,57.5,60,62.5], "labelExpr": "datum.value % 5 === 0 ? datum.label : ''"}},
        "y": {"field": "y", "type": "quantitative", "scale": {"domain": [-1, 1], "nice": false, "zero": false}, "axis": {"title": "Normalized Velocity (mm/s)", "values": [-1,-0.75,-0.5,-0.25,0,0.25,0.5,0.75,1], "labelExpr": "datum.value % 0.5 === 0 ? (datum.value < 0 ? '-' : '') + format(abs(datum.value), '.1f') : ''", "gridOpacity": {"condition": {"test": "abs(datum.value) === 1", "value": 0}, "value": 1}}},
        "color": {"field": "s", "type": "nominal", "scale": {"domain": ["Data1","Data2","Data3","Data4","Data5","Data6","Data7"], "range": ["#e8202b","#3c6ea8","#f2c81e","#2fb47c","#4a4b96","#6b7d18","#f26d7d"]}, "legend": {"title": null, "orient": "none", "legendX": 370, "legendY": -29}}
      }
    }
  ]
}
